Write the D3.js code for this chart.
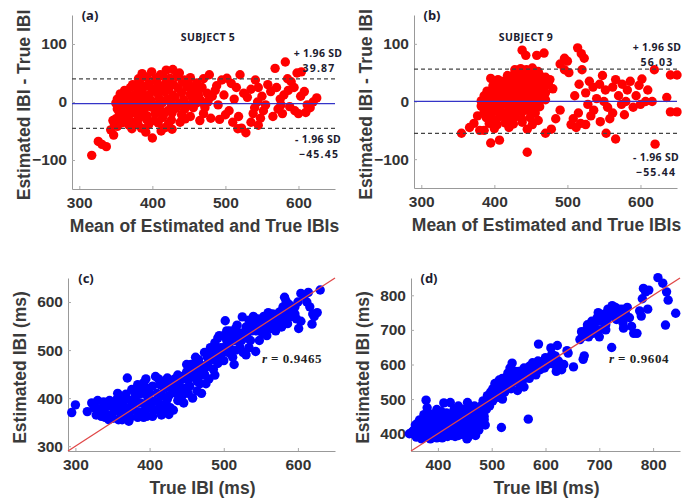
<!DOCTYPE html>
<meta charset="utf-8">
<style>
body { margin: 0; background: #fff; }
text { font-family: "Liberation Sans", Arial, sans-serif; }
</style>
<body>
<script src="https://d3js.org/d3.v7.min.js"></script>
<script>

// Bland-Altman, subject 5: [mean of estimated and true, estimated - true]
var subject5Diff = [
  [317,-92],[326,-68],[331,-73],[337,-77],[343,-48],[347,-57],[346,-32],[352,-42],
  [386,49],[399,52],[411,47],[419,55],[428,56],[437,50],
  [381,40],[392,43],[404,40],[414,45],[424,41],[433,44],[444,38],[452,42],
  [373,30],[383,34],[395,31],[406,35],[418,32],[429,30],[441,35],[450,30],[461,33],
  [362,20],[370,25],[380,22],[390,27],[400,23],[411,26],[422,21],[435,24],[447,26],[458,22],[468,25],
  [356,14],[365,16],[375,12],[386,17],[396,13],[407,15],[417,18],[428,12],[440,16],[452,14],[463,11],[475,15],
  [352,5],[360,7],[369,4],[378,8],[388,6],[398,3],[409,7],[420,5],[431,8],[443,4],[455,6],[466,3],[478,7],
  [350,-2],[358,-4],[366,-1],[375,-5],[384,-3],[394,-2],[404,-6],[414,-1],[426,-4],[437,-3],[449,-5],[460,-2],[471,-4],
  [352,-12],[361,-10],[370,-14],[379,-11],[389,-13],[399,-9],[410,-12],[421,-15],[432,-11],[444,-13],[456,-10],
  [355,-20],[364,-23],[373,-19],[383,-22],[393,-24],[404,-20],[415,-23],[427,-19],[440,-22],[452,-25],
  [350,-29],[360,-31],[370,-33],[381,-28],[392,-30],[403,-32],[414,-27],[426,-31],[445,-29],
  [348,-38],[358,-36],[368,-40],[380,-37],[395,-39],[408,-36],[422,-38],[438,-35],
  [372,-46],[385,-45],[418,-44],[427,-47],[400,-62],[412,-50],[391,-52],
  [470,40],[478,47],[488,28],[495,38],[502,41],[508,32],[515,25],[520,47],[482,10],[490,-5],
  [498,12],[505,-15],[512,5],[518,-25],[525,15],[470,-20],[480,-28],[492,-30],[500,-22],[510,-35],
  [476,0],[486,20],[465,-32],[530,8],[535,22],[541,38],[545,25],[550,10],[555,-5],[540,-10],
  [548,-28],[535,-35],[528,-53],[517,-46],[522,-45],[545,-40],[552,-15],[558,30],[538,-20],[544,0],
  [463,18],[472,-10],
  [562,18],[568,58],[570,25],[575,5],[578,-20],[582,69],[586,20],[590,35],[595,-15],[598,50],
  [604,52],[603,10],[608,18],[612,-5],[616,-10],[620,0],[625,7],[588,-8],[580,12],[572,-12],
  [565,-25],[594,25],[600,-20],[610,-18],[585,40],[576,-5]
];

// Bland-Altman, subject 9
var subject9Diff = [
  [355,-55],[366,-45],[372,-38],[377,-25],[380,-50],[382,-8],
  [428,55],[436,57],[444,55],[452,58],[460,52],
  [418,45],[427,47],[435,44],[444,48],[453,45],[462,46],[470,42],
  [405,38],[413,35],[422,38],[431,36],[440,39],[449,35],[458,37],[467,34],[476,38],
  [398,27],[406,29],[414,26],[423,30],[432,27],[441,28],[450,26],[459,29],[468,25],
  [390,18],[398,20],[406,17],[415,21],[424,18],[433,19],[442,16],[451,20],[460,17],[470,15],
  [386,10],[394,8],[402,11],[410,9],[419,12],[428,8],[437,10],[446,11],[455,7],[464,9],
  [382,1],[390,-1],[398,2],[407,0],[416,3],[425,-1],[434,1],[443,2],[452,-2],[461,0],[470,3],
  [383,-8],[391,-10],[399,-7],[408,-9],[417,-6],[426,-10],[435,-8],[444,-7],[453,-11],[462,-9],
  [386,-18],[394,-20],[402,-16],[411,-19],[420,-17],[429,-21],[438,-18],[447,-16],[456,-20],
  [389,-28],[398,-30],[408,-26],[418,-29],[428,-27],[438,-31],[449,-28],[460,-33],
  [393,-38],[404,-40],[415,-37],[426,-39],[438,-36],[452,-40],
  [386,-50],[400,-47],[420,-45],[445,-48],
  [395,-72],[407,-67],[445,-88],[438,89],[443,80],[458,80],[468,84],[490,65],[496,75],[500,70],
  [514,93],[519,83],[523,75],[395,40],[474,30],[480,22],
  [470,-55],[478,-48],[484,-30],[490,-15],[496,55],[502,50],[508,-30],[505,-40],[512,-45],[518,-38],
  [510,10],[516,30],[520,55],[525,15],[528,-5],[532,-25],[536,-15],[540,5],[544,30],[548,45],
  [552,20],[555,-10],[553,-55],[558,-30],[562,25],[566,-65],[566,38],[570,10],[574,-5],[578,-23],
  [582,20],[586,35],[590,-10],[594,10],[598,28],[602,39],[545,-35],[535,25],[515,-20],[525,-40],
  [562,-20],[550,0],[580,0],[575,30],[530,35],
  [619,55],[620,-74],[607,0],[616,0],[636,7],[641,-18],[650,-18],[641,46],[650,46],[610,20],[600,-5]
];

// correlation, subject 5: [true IBI, estimated IBI]
var subject5Corr = [
  [295,370],[300,386],[316,372],[322,390],[328,365],
  [333,378],[338,392],[344,365],[348,385],[352,372],[356,398],[340,360],[350,358],[358,355],
  [325,380],[330,395],[336,370],[342,382],[346,395],[354,385],[345,355],[335,362],[357,410],
  [362,365],[366,382],[370,398],[374,360],[378,375],[382,392],[386,408],[390,370],[394,385],[398,400],
  [363,355],[372,352],[384,360],[396,362],[370,442],[388,420],[392,432],[380,412],[398,420],
  [360,375],[364,392],[368,368],[376,385],[380,400],[384,372],[388,390],[392,360],[396,378],[400,392],
  [368,408],[376,418],[384,428],[392,410],[358,400],[372,375],[395,440],
  [402,378],[406,393],[410,410],[414,428],[418,372],[422,388],[426,405],[430,420],[434,440],[438,395],
  [404,362],[416,365],[428,380],[436,410],[440,432],[412,440],[424,442],[432,375],
  [400,410],[404,425],[408,375],[412,392],[416,405],[420,420],[424,398],[428,432],[432,412],[436,425],
  [440,410],[408,445],[420,436],[438,448],[426,366],[414,380],
  [444,405],[448,420],[452,438],[456,455],[460,470],[464,415],[468,430],[472,448],[476,465],
  [446,390],[458,400],[470,410],[478,485],[462,485],[474,495],[450,470],[480,440],[466,445],
  [442,420],[446,440],[450,455],[454,425],[458,445],[462,460],[466,480],[470,468],[474,450],[478,470],
  [444,445],[456,470],[468,455],[476,430],[452,410],[464,435],[440,395],[480,490],[488,448],
  [484,480],[488,500],[492,472],[496,490],[500,505],[504,520],[508,540],[512,485],[516,500],[520,518],
  [524,535],[486,460],[500,478],[514,470],[526,495],[530,490],[518,552],[502,561],[494,530],[482,505],
  [484,495],[488,515],[492,525],[496,505],[500,530],[504,540],[508,515],[512,530],[516,545],[520,535],
  [524,520],[528,530],[532,545],[536,555],[540,570],[486,485],[498,495],[510,500],[522,505],[490,490],
  [506,495],[534,505],[514,520],
  [525,569],[530,548],[534,562],[538,540],[542,555],[546,565],[550,548],[554,570],[558,530],[536,520],
  [543,497],[548,520],[556,558],[532,525],[560,560],
  [544,540],[548,558],[552,535],[556,545],[560,578],[564,562],[568,550],[572,560],[576,580],[580,570],
  [584,578],[588,595],[592,570],[596,590],[600,600],[566,575],[578,548],
  [564,545],[568,565],[572,575],[576,560],[580,590],[584,602],[588,570],[592,585],[596,575],[570,540],
  [586,555],[598,565],[582,610],
  [601,545],[604,560],[608,612],[612,600],[616,590],[619,554],[622,570],[626,578],[630,625],[604,618],
  [614,620],[620,575]
];

// correlation, subject 9
var subject9Corr = [
  [352,405],[356,398],[360,412],[364,395],[368,420],[372,405],[376,390],[380,475],[378,497],[384,415],
  [388,400],[392,430],[396,390],[400,445],[404,410],[408,388],[412,425],[416,460],[420,400],[424,440],
  [428,415],[432,392],[436,455],[440,425],[444,405],[448,470],[452,435],[456,390],[460,450],[464,420],
  [468,480],[472,440],[476,410],[480,465],[484,495],[488,425],[358,425],[366,440],[374,455],[382,430],
  [390,455],[398,470],[406,465],[411,489],[423,490],[430,470],[438,480],[446,450],[454,385],[462,400],
  [470,395],[478,455],[486,450],[394,410],[402,395],[418,415],[426,395],[434,430],[442,445],[450,415],
  [458,430],[466,465],[474,425],[370,385],[386,385],[414,395],[490,470],[496,480],[455,490],[347,400],
  [355,410],[362,402],[366,395],[370,400],[374,410],[378,398],[382,392],[386,405],[390,395],[394,400],
  [398,388],[402,405],[406,398],[410,410],[414,405],[418,392],[422,410],[426,405],[430,400],[434,412],
  [438,395],[442,410],[446,398],[450,402],[454,415],[458,410],[462,420],[466,410],[470,425],[474,440],
  [478,430],[482,445],[486,440],[362,430],[370,435],[378,445],[386,440],[394,445],[402,450],[410,445],
  [418,450],[426,455],[434,460],[442,465],[450,455],[458,470],[466,455],[474,470],[480,480],[392,420],
  [400,425],[408,432],[416,435],[424,425],[432,445],[440,440],[448,435],[456,445],[464,440],[360,390],
  [374,420],[382,460],
  [494,500],[498,520],[502,530],[506,545],[510,525],[514,555],[518,418],[522,540],[526,560],[530,575],
  [534,590],[538,604],[542,550],[546,565],[550,580],[554,540],[558,555],[562,570],[566,585],[568,442],
  [570,560],[574,575],[578,590],[582,570],[587,659],[590,585],[594,600],[598,590],[502,495],[512,505],
  [524,520],[536,530],[548,525],[508,510],[520,500],[560,535],[528,545],
  [492,510],[496,495],[500,512],[504,525],[508,540],[512,530],[516,545],[520,560],[524,552],[528,530],
  [532,560],[536,575],[540,565],[544,580],[548,570],[552,560],[556,575],[560,590],[564,575],[570,595],
  [576,605],[580,600],[586,610],[592,595],[596,610],[600,620],
  [602,605],[606,615],[610,648],[614,610],[618,625],[622,655],[626,595],[630,585],[634,600],[642,633],
  [652,593],[620,580],[640,640],[604,600],[608,620],[612,630],[616,600],[624,610],[628,600],
  [664,672],[667,695],[670,615],[672,625],[676,700],[680,680],[684,710],[688,690],[692,720],[696,735],
  [700,700],[704,725],[708,745],[712,715],[716,760],[720,740],[723,649],[724,770],[728,755],[732,730],
  [736,760],[740,745],[744,720],[748,750],[752,765],[756,735],[760,710],[764,690],[770,690],[700,680],
  [690,705],[712,700],[745,705],[668,680],[678,715],[686,725],[694,700],[698,750],[706,735],[714,730],
  [718,750],[726,740],[730,765],[738,735],[750,740],[742,760],
  [775,755],[778,740],[782,820],[786,810],[780,790],[792,815],[809,851],[818,835],[825,810],[828,786],
  [842,748],[823,714],[790,760]
];

var sdLimits5 = [39.87, -45.45];
var sdLimits9 = [56.03, -55.44];
var rValues = ["0.9465", "0.9604"];
var baTicksX = [300, 400, 500, 600];
var baTicksY = [-100, 0, 100];
var corrTicks5 = [300, 400, 500, 600];
var corrTicks9 = [400, 500, 600, 700, 800];

var svg = d3.select("body").append("svg")
    .attr("width", 697)
    .attr("height", 504);

function panel(o) {
  var g = svg.append("g");
  var x = d3.scaleLinear().domain(o.xd).range([o.left, o.right]);
  var y = d3.scaleLinear().domain(o.yd).range([o.bottom, o.top]);

  var ax = g.append("g")
      .attr("transform", "translate(0," + o.bottom + ")")
      .call(d3.axisBottom(x).tickValues(o.xt).tickSizeInner(-3).tickSizeOuter(0).tickPadding(8));
  var ay = g.append("g")
      .attr("transform", "translate(" + o.left + ",0)")
      .call(d3.axisLeft(y).tickValues(o.yt).tickSizeInner(-3).tickSizeOuter(0).tickPadding(5));
  [ax, ay].forEach(function(a) {
    a.select(".domain").attr("stroke", "#999");
    a.selectAll(".tick line").attr("stroke", "#aaa");
    a.selectAll(".tick text")
        .style("font-family", "Liberation Sans, Arial, sans-serif")
        .style("font-size", "15.5px")
        .style("font-weight", "bold")
        .attr("fill", "#333");
  });

  g.selectAll("circle.dot")
      .data(o.data)
    .enter().append("circle")
      .attr("class", "dot")
      .attr("cx", function(d) { return x(d[0]); })
      .attr("cy", function(d) { return y(d[1]); })
      .attr("r", 4.7)
      .attr("fill", o.color);

  // axis titles
  g.append("text")
      .attr("x", (o.left + o.right) / 2 + 1)
      .attr("y", o.bottom + 43)
      .attr("text-anchor", "middle")
      .style("font-size", "17.5px").style("font-weight", "bold")
      .attr("fill", "#3a3a3a")
      .text(o.xLabel);
  g.append("text")
      .attr("transform", "translate(" + (o.left - 42) + "," + ((o.top + o.bottom) / 2 + 3) + ") rotate(-90)")
      .attr("text-anchor", "middle")
      .style("font-size", "17.5px").style("font-weight", "bold")
      .attr("fill", "#3a3a3a")
      .text(o.yLabel);

  g.append("text")
      .attr("x", o.left + 18)
      .attr("y", o.top + 5)
      .attr("text-anchor", "middle")
      .style("font-family", "Noto Sans, sans-serif")
      .style("font-size", "13px").style("font-weight", "bold")
      .attr("fill", "#1c1c30")
      .text(o.tag);

  return {g: g, x: x, y: y};
}

function blandAltman(p, limits, subject, labels) {
  var x = p.x, y = p.y, g = p.g;
  var xr = x.range();
  g.selectAll("line.sd")
      .data(limits)
    .enter().append("line")
      .attr("class", "sd")
      .attr("x1", xr[0]).attr("x2", xr[1])
      .attr("y1", function(d) { return y(d); })
      .attr("y2", function(d) { return y(d); })
      .attr("stroke", "#444").attr("stroke-width", 1.3)
      .attr("stroke-dasharray", "4,3");
  var bias = (limits[0] + limits[1]) / 2;
  g.append("line")
      .attr("x1", xr[0]).attr("x2", xr[1])
      .attr("y1", y(bias)).attr("y2", y(bias))
      .attr("stroke", "#3434c8").attr("stroke-width", 1.2);

  g.append("text")
      .attr("x", subject.x).attr("y", 41)
      .attr("text-anchor", "middle")
      .style("font-family", "Noto Sans, sans-serif")
      .style("font-size", "10.5px").style("font-weight", "bold")
      .style("letter-spacing", "0.3px")
      .attr("fill", "#1c1c30")
      .text(subject.text);

  g.selectAll("text.sdl")
      .data(labels)
    .enter().append("text")
      .attr("class", "sdl")
      .attr("x", function(d) { return d.x; })
      .attr("y", function(d) { return d.y; })
      .attr("text-anchor", "middle")
      .style("font-family", "Noto Sans, sans-serif")
      .style("font-size", "10.5px").style("font-weight", "bold")
      .style("letter-spacing", function(d) { return d.sp; })
      .attr("fill", "#1c1c30")
      .text(function(d) { return d.text; });
}

function correlation(p, r, rx) {
  var x = p.x, y = p.y, g = p.g;
  var lo = Math.max(x.domain()[0], y.domain()[0]);
  var hi = Math.min(x.domain()[1], y.domain()[1]);
  g.append("line")
      .attr("x1", x(lo)).attr("y1", y(lo))
      .attr("x2", x(hi)).attr("y2", y(hi))
      .attr("stroke", "#e04848").attr("stroke-width", 1.3);
  var t = g.append("text")
      .attr("x", rx).attr("y", 363)
      .style("font-family", "Liberation Serif, serif")
      .style("font-size", "13px").style("font-weight", "bold")
      .attr("fill", "#222");
  t.append("tspan").style("font-style", "italic").text("r");
  t.append("tspan").text(" = " + r).style("letter-spacing", "0.6px");
}

var pa = panel({left: 72, right: 335, top: 15, bottom: 189, xd: [290, 650], yd: [-150, 150],
  xt: baTicksX, yt: baTicksY, data: subject5Diff, color: "#ff0000", tag: "(a)",
  xLabel: "Mean of Estimated and True IBIs", yLabel: "Estimated IBI - True IBI"});
blandAltman(pa, sdLimits5, {x: 208, text: "SUBJECT 5"}, [
  {x: 318, y: 57, text: "+ 1.96 SD", sp: "0.3px"},
  {x: 319, y: 72, text: sdLimits5[0].toFixed(2), sp: "1.2px"},
  {x: 318, y: 143, text: "- 1.96 SD", sp: "0.3px"},
  {x: 319, y: 158, text: "\u2212" + Math.abs(sdLimits5[1]).toFixed(2), sp: "1.2px"}
]);

var pb = panel({left: 414, right: 677, top: 15, bottom: 188, xd: [290, 650], yd: [-150, 150],
  xt: baTicksX, yt: baTicksY, data: subject9Diff, color: "#ff0000", tag: "(b)",
  xLabel: "Mean of Estimated and True IBIs", yLabel: "Estimated IBI - True IBI"});
blandAltman(pb, sdLimits9, {x: 526, text: "SUBJECT 9"}, [
  {x: 657, y: 51, text: "+ 1.96 SD", sp: "0.3px"},
  {x: 657, y: 66, text: sdLimits9[0].toFixed(2), sp: "1.2px"},
  {x: 656, y: 161, text: "- 1.96 SD", sp: "0.3px"},
  {x: 656, y: 176, text: "\u2212" + Math.abs(sdLimits9[1]).toFixed(2), sp: "1.2px"}
]);

var pc = panel({left: 68, right: 335, top: 278, bottom: 451, xd: [290, 650], yd: [290, 650],
  xt: corrTicks5, yt: corrTicks5, data: subject5Corr, color: "#0000ff", tag: "(c)",
  xLabel: "True IBI (ms)", yLabel: "Estimated IBI (ms)"});
correlation(pc, rValues[0], 262);

var pd = panel({left: 411, right: 680, top: 278, bottom: 451, xd: [350, 850], yd: [350, 850],
  xt: corrTicks9, yt: corrTicks9, data: subject9Corr, color: "#0000ff", tag: "(d)",
  xLabel: "True IBI (ms)", yLabel: "Estimated IBI (ms)"});
correlation(pd, rValues[1], 609);

</script>
